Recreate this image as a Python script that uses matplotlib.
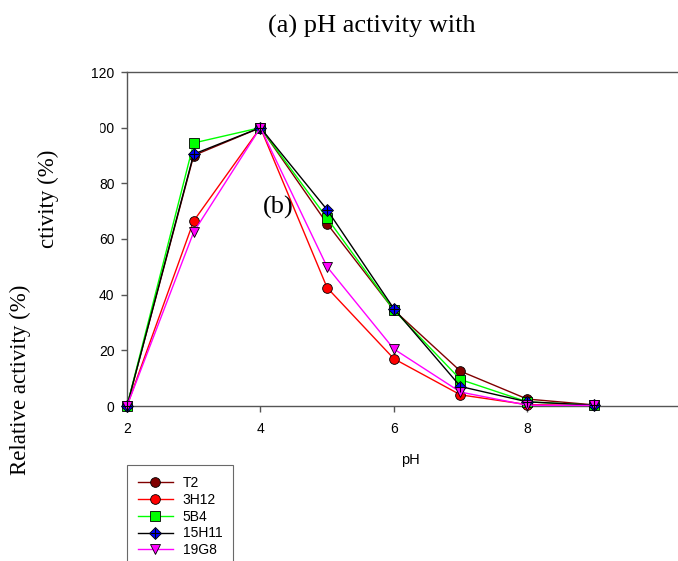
import matplotlib
matplotlib.use("Agg")
import matplotlib.pyplot as plt
from matplotlib.patches import Rectangle
from matplotlib.legend_handler import HandlerTuple

# pH activity data (relative activity %)
ph = [2, 3, 4, 5, 6, 7, 8, 9]
t2 = [0, 90, 100, 65.5, 34.5, 12.5, 2.5, 0.4]
h3_12 = [0, 66.5, 100, 42.5, 17, 4, 0.5, 0.2]
b5_4 = [0, 94.5, 100, 67.5, 34.5, 9.5, 1.5, 0.3]
h15_11 = [0, 90.5, 100, 70.5, 35, 7, 1.5, 0.3]
g19_8 = [0, 62.5, 100, 50, 20.5, 5, 0.3, 0.2]

names = ["T2", "3H12", "5B4", "15H11", "19G8"]
series = [t2, h3_12, b5_4, h15_11, g19_8]
line_cols = ["#800000", "#ff0000", "#00ff00", "#000000", "#ff00ff"]
face_cols = ["#800000", "#ff0000", "#00ff00", "#0000ff", "#ff00ff"]
markers = ["o", "o", "s", "D", "v"]
msizes = [7, 7, 6.5, 6, 7]

W, H = 678, 561
fig = plt.figure(figsize=(W / 100, H / 100), dpi=100)

# axes: x=2 at px 127, 66.7 px per pH unit; y=0 at px 406, y=120 at px 72
x0, x1 = 2, 10.5
left = 127 / W
width = (x1 - x0) * 66.7 / W
bottom = (H - 406) / H
height = (406 - 72) / H
ax = fig.add_axes([left, bottom, width, height])

handles = []
for name, ys, lc, fc, m, ms in zip(names, series, line_cols, face_cols, markers, msizes):
    h, = ax.plot(ph, ys, color=lc, lw=1, marker=m, markersize=ms,
                 markerfacecolor=fc, markeredgecolor="black", markeredgewidth=0.6,
                 label=name, clip_on=False, zorder=3)
    if m == "D":
        # crosshair drawn on the diamond
        c, = ax.plot(ph, ys, ls="none", marker="+", markersize=7, color="black",
                     markeredgewidth=0.8, clip_on=False, zorder=3.1)
        handles.append((h, c))
    else:
        handles.append(h)

ax.set_xlim(x0, x1)
ax.set_ylim(0, 120)
ax.set_xticks([2, 4, 6, 8])
ax.set_yticks([0, 20, 40, 60, 80, 100, 120])
for sp in ["left", "bottom", "top"]:
    ax.spines[sp].set_color("#555555")
    ax.spines[sp].set_linewidth(1)
ax.spines["right"].set_visible(False)
ax.tick_params(direction="out", length=4, width=1, color="#555555", labelsize=10)
ax.tick_params(axis="x", pad=7.5)
ax.tick_params(axis="y", pad=5)
for lab in ax.get_xticklabels() + ax.get_yticklabels():
    lab.set_family("Liberation Sans")

ax.set_xlabel("pH", family="Liberation Sans", fontsize=10.5, labelpad=12)

# hide the leading "1" of 100 as in the reference
fig.add_artist(Rectangle((84 / W, (H - 137) / H), 15 / W, 18 / H,
                         transform=fig.transFigure, color="white", zorder=10))

serif = "Liberation Serif"
fig.text(372 / W, 1 - 26 / H, "(a) pH activity with", family=serif,
         fontsize=19, ha="center", va="center")
fig.text(278 / W, 1 - 207 / H, "(b)", family=serif, fontsize=19,
         ha="center", va="center", zorder=5)
fig.text(48 / W, 1 - 150 / H, "ctivity (%)", family=serif, fontsize=16.5,
         rotation=90, ha="center", va="top")
fig.text(20 / W, 1 - 285 / H, "Relative activity (%)", family=serif, fontsize=16.5,
         rotation=90, ha="center", va="top")

leg = fig.legend(handles=handles, labels=names, loc="upper left",
                 bbox_to_anchor=(127 / W, 1 - 465 / H),
                 handler_map={tuple: HandlerTuple(ndivide=1, pad=0)},
                 prop={"family": "Liberation Sans", "size": 10},
                 frameon=True, fancybox=False, edgecolor="#444444",
                 handlelength=2.5, handletextpad=0.7, labelspacing=0.2,
                 borderpad=0.8, borderaxespad=0)
leg.get_frame().set_linewidth(0.8)

fig.savefig("out.png", dpi=100)
